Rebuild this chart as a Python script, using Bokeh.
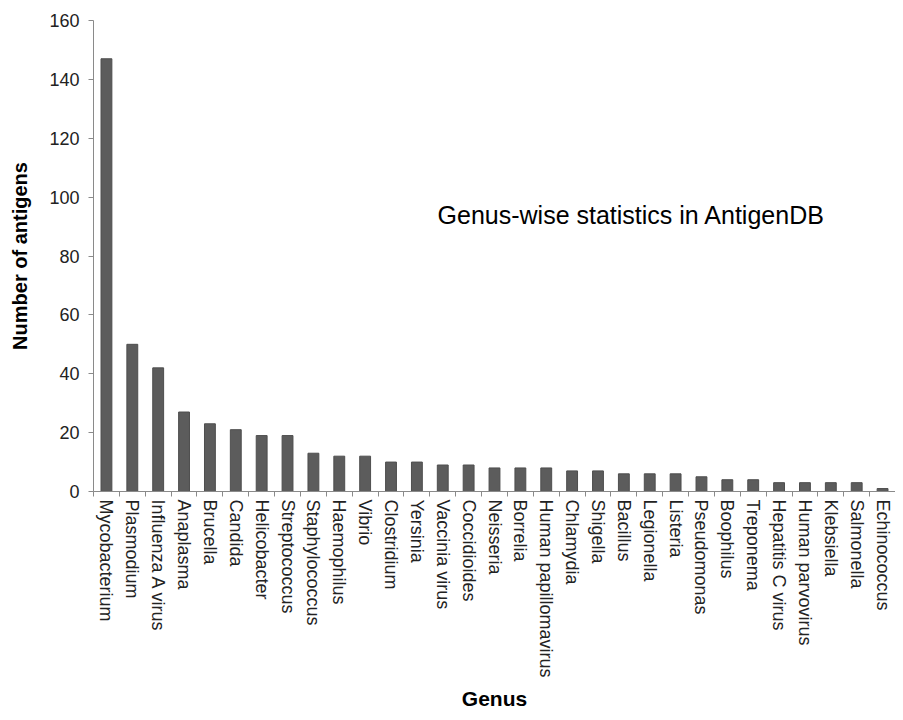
from bokeh.plotting import figure
from bokeh.models import Range1d, FixedTicker, Label
from bokeh.embed import file_html
from bokeh.resources import INLINE

genera = ["Mycobacterium", "Plasmodium", "Influenza A virus", "Anaplasma", "Brucella",
          "Candida", "Helicobacter", "Streptococcus", "Staphylococcus", "Haemophilus",
          "Vibrio", "Clostridium", "Yersinia", "Vaccinia virus", "Coccidioides",
          "Neisseria", "Borrelia", "Human papillomavirus", "Chlamydia", "Shigella",
          "Bacillus", "Legionella", "Listeria", "Pseudomonas", "Boophilus",
          "Treponema", "Hepatitis C virus", "Human parvovirus", "Klebsiella",
          "Salmonella", "Echinococcus"]
antigens = [147, 50, 42, 27, 23, 21, 19, 19, 13, 12, 12, 10, 10, 9, 9,
            8, 8, 8, 7, 7, 6, 6, 6, 5, 4, 4, 3, 3, 3, 3, 1]
y_ticks = [0, 20, 40, 60, 80, 100, 120, 140, 160]
title_text = "Genus-wise statistics in AntigenDB"

FONT = "Liberation Sans"
n = len(genera)
xs = list(range(1, n + 1))

p = figure(width=895, height=712, output_backend="svg", toolbar_location=None,
           x_range=Range1d(0.5, n + 0.5), y_range=Range1d(0, 160),
           min_border_left=93, min_border_right=0, min_border_top=20,
           min_border_bottom=220)

p.vbar(x=xs, top=antigens, width=0.42, fill_color="#5c5c5c", line_color="#4e4e4e")

p.xgrid.visible = False
p.ygrid.visible = False
p.outline_line_color = None
p.background_fill_color = "white"

xa = p.xaxis[0]
xa.ticker = FixedTicker(ticks=xs, minor_ticks=[i + 0.5 for i in range(0, n + 1)])
xa.major_label_overrides = {i: g for i, g in zip(xs, genera)}
xa.major_label_orientation = "vertical"
xa.major_tick_line_color = None
xa.major_tick_out = 5
xa.major_tick_in = 0
xa.minor_tick_out = 5
xa.minor_tick_in = 0
xa.minor_tick_line_color = "#8a8a8a"
xa.axis_line_color = "#8a8a8a"
xa.major_label_text_font = FONT
xa.major_label_text_font_size = "18px"
xa.major_label_text_color = "#222222"
xa.major_label_standoff = 3
xa.axis_label = "Genus"
xa.axis_label_text_font = FONT
xa.axis_label_text_font_size = "21px"
xa.axis_label_text_font_style = "bold"
xa.axis_label_text_color = "black"
xa.axis_label_standoff = 6

ya = p.yaxis[0]
ya.ticker = FixedTicker(ticks=y_ticks)
ya.major_tick_out = 5
ya.major_tick_in = 0
ya.major_tick_line_color = "#8a8a8a"
ya.minor_tick_line_color = None
ya.axis_line_color = "#8a8a8a"
ya.major_label_text_font = FONT
ya.major_label_text_font_size = "18px"
ya.major_label_text_color = "#222222"
ya.major_label_standoff = 9
ya.axis_label = "Number of antigens"
ya.axis_label_text_font = FONT
ya.axis_label_text_font_size = "20px"
ya.axis_label_text_font_style = "bold"
ya.axis_label_text_color = "black"
ya.axis_label_standoff = 15

p.add_layout(Label(x=13.8, y=94, text=title_text, text_font=FONT,
                   text_font_size="25px", text_color="black",
                   text_align="left", text_baseline="middle"))

open("out.html", "w").write(file_html(p, INLINE))
